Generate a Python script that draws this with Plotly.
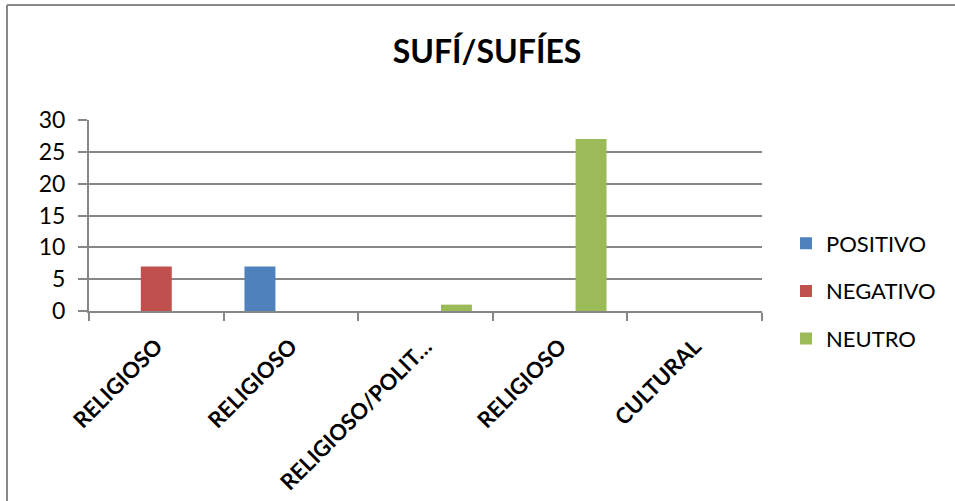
import plotly.graph_objects as go

categories = ["RELIGIOSO", "RELIGIOSO", "RELIGIOSO/POLIT…", "RELIGIOSO", "CULTURAL"]
positivo = [None, 7, None, None, None]
negativo = [7, None, None, None, None]
neutro = [None, None, 1, 27, None]

COLORS = {"POSITIVO": "#4F81BD", "NEGATIVO": "#C0504D", "NEUTRO": "#9BBB59"}
GRID = "#878787"
FONT = "Lato, 'Open Sans', sans-serif"

W, H = 955, 501
L, R, T, B = 89, 193, 120, 190

x_pos = list(range(len(categories)))

fig = go.Figure()
for name, vals in [("POSITIVO", positivo), ("NEGATIVO", negativo), ("NEUTRO", neutro)]:
    fig.add_trace(go.Bar(
        name=name,
        x=x_pos,
        y=vals,
        marker=dict(color=COLORS[name], line=dict(width=0)),
        legendgroup=name,
        hoverinfo="skip",
    ))

# chart frame: only the top and left edges fall inside the picture
pw = W - L - R
ph = H - T - B
fx0 = (7 - L) / pw
fy1 = (H - 5 - B) / ph
fig.add_shape(type="line", xref="paper", yref="paper",
              x0=fx0, x1=(W + 5 - L) / pw, y0=fy1, y1=fy1,
              line=dict(color="#898989", width=2))
fig.add_shape(type="line", xref="paper", yref="paper",
              x0=fx0, x1=fx0, y0=fy1, y1=-(H + 5 - T - ph) / ph,
              line=dict(color="#898989", width=2))

fig.update_layout(
    width=W, height=H,
    margin=dict(l=L, r=R, t=T, b=B, autoexpand=False),
    paper_bgcolor="white",
    plot_bgcolor="white",
    barmode="group",
    bargap=0.31,
    bargroupgap=0,
    title=dict(
        text="<b>SUFÍ/SUFÍES</b>",
        font=dict(family=FONT, size=32, color="black"),
        x=0.51, xanchor="center", xref="container",
        y=1 - 52 / H, yanchor="middle", yref="container",
    ),
    font=dict(family=FONT, size=22, color="black"),
    xaxis=dict(
        range=[-0.5, len(categories) - 0.5],
        tickmode="array",
        tickvals=x_pos,
        ticktext=[f"<b>{c}</b>" for c in categories],
        tickangle=-45,
        ticks="",
        ticklabelstandoff=12,
        showgrid=False,
        zeroline=False,
        automargin=False,
        showline=True, linecolor=GRID, linewidth=2,
        minor=dict(tickmode="linear", tick0=-0.5, dtick=1, ticks="outside",
                   ticklen=8, tickwidth=2, tickcolor=GRID, showgrid=False),
        tickfont=dict(size=22),
    ),
    yaxis=dict(
        range=[0, 30],
        dtick=5,
        ticks="outside", ticklen=9, tickwidth=2, tickcolor=GRID,
        showgrid=True, gridcolor=GRID, gridwidth=1.5,
        zeroline=False,
        automargin=False,
        showline=True, linecolor=GRID, linewidth=2,
        ticklabelstandoff=8,
        tickfont=dict(size=23),
    ),
    legend=dict(
        x=(786 - L) / pw, xanchor="left",
        y=(311 - 291) / ph, yanchor="middle",
        traceorder="grouped",
        tracegroupgap=16,
        itemwidth=30,
        font=dict(size=22),
        bgcolor="rgba(0,0,0,0)",
    ),
    showlegend=True,
)

fig.write_html("out.html", config={"displayModeBar": False},
               post_script="document.body.style.margin='0px';")
